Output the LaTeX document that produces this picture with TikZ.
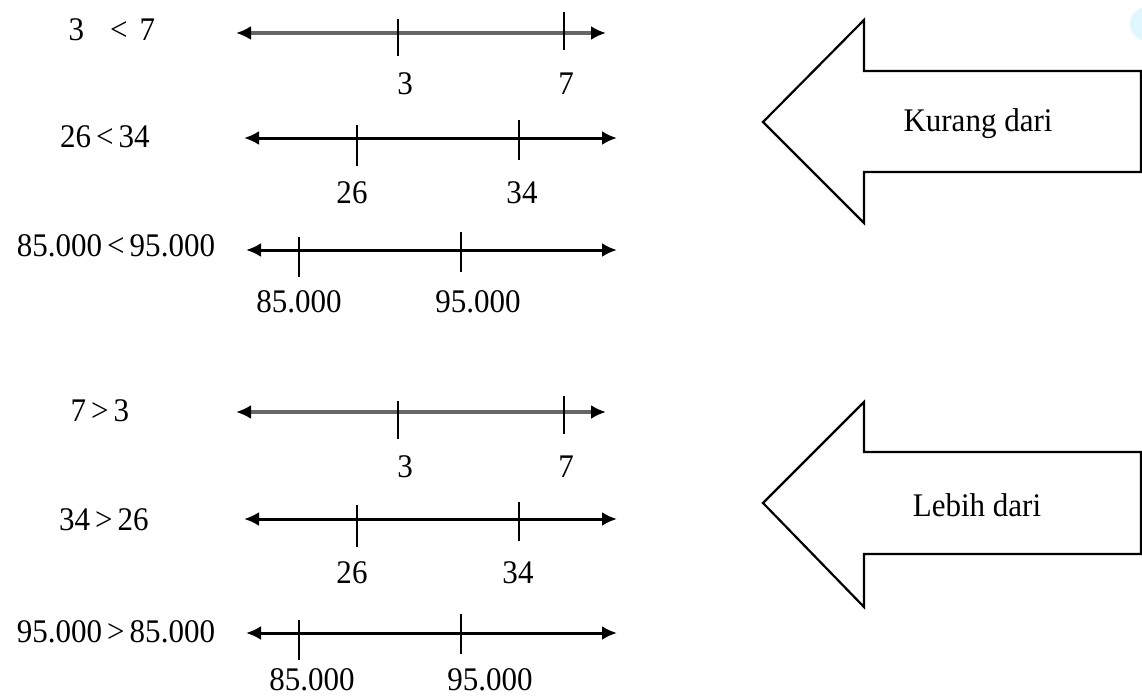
\documentclass[tikz,border=0pt]{standalone}
\usepackage{fontspec}
\setmainfont[FakeStretch=0.94]{Liberation Serif}
\usetikzlibrary{arrows.meta}
\begin{document}
\begin{tikzpicture}[x=1pt,y=-1pt,
  txt/.style={inner sep=0pt,font=\fontsize{33}{36}\selectfont},
  nline/.style={line width=3pt,{Latex[length=15pt,width=14pt]}-{Latex[length=15pt,width=14pt]}},
  gline/.style={nline,line width=4.5pt,draw=black!60,{Latex[length=15pt,width=14pt,black]}-{Latex[length=15pt,width=14pt,black]}},
  tick/.style={line width=2.5pt},
  bigarrow/.style={draw=black,line width=2.2pt,line join=miter,fill=white}]
\useasboundingbox (0,0) rectangle (1142,698);
\fill[white] (0,0) rectangle (1142,698);
\begin{scope}
\clip (0,0) rectangle (1142,698);
\fill[blue!25!cyan!15,opacity=0.8] (1147,24) circle (17);
\end{scope}

% ---- row 1: 3 < 7
\node[txt] (t1) at (112,30) {3\hspace{26pt}<\hspace{12pt}7};
\coordinate (a1) at (236,33); \coordinate (b1) at (606,33);
\draw[gline] (a1) -- (b1);
\draw[tick] (398,19) -- (398,56);
\draw[tick] (564,12) -- (564,50);
\node[txt] (l1a) at (405,84) {3};
\node[txt] (l1b) at (566,84) {7};

% ---- row 2: 26 < 34
\node[txt] (t2) at (105,137) {26\hspace{5pt}<\hspace{5pt}34};
\coordinate (a2) at (244,138); \coordinate (b2) at (617,138);
\draw[nline] (a2) -- (b2);
\draw[tick] (357,125) -- (357,166);
\draw[tick] (519,120) -- (519,160);
\node[txt] (l2a) at (352,193) {26};
\node[txt] (l2b) at (522,193) {34};

% ---- row 3: 85.000 < 95.000
\node[txt] (t3) at (116,246) {85.000\hspace{5pt}<\hspace{5pt}95.000};
\coordinate (a3) at (246,250); \coordinate (b3) at (617,250);
\draw[nline] (a3) -- (b3);
\draw[tick] (299,237) -- (299,277);
\draw[tick] (461,232) -- (461,272);
\node[txt] (l3a) at (299,302) {85.000};
\node[txt] (l3b) at (478,302) {95.000};

% ---- row 4: 7 > 3
\node[txt] (t4) at (100,411) {7\hspace{5pt}>\hspace{5pt}3};
\coordinate (a4) at (236,412); \coordinate (b4) at (606,412);
\draw[gline] (a4) -- (b4);
\draw[tick] (398,401) -- (398,439);
\draw[tick] (564,396) -- (564,434);
\node[txt] (l4a) at (405,467) {3};
\node[txt] (l4b) at (566,467) {7};

% ---- row 5: 34 > 26
\node[txt] (t5) at (104,520) {34\hspace{5pt}>\hspace{5pt}26};
\coordinate (a5) at (244,519); \coordinate (b5) at (617,519);
\draw[nline] (a5) -- (b5);
\draw[tick] (357,505) -- (357,547);
\draw[tick] (519,502) -- (519,541);
\node[txt] (l5a) at (352,573) {26};
\node[txt] (l5b) at (518,573) {34};

% ---- row 6: 95.000 > 85.000
\node[txt] (t6) at (116,632) {95.000\hspace{5pt}>\hspace{5pt}85.000};
\coordinate (a6) at (246,633); \coordinate (b6) at (617,633);
\draw[nline] (a6) -- (b6);
\draw[tick] (299,620) -- (299,660);
\draw[tick] (461,614) -- (461,654);
\node[txt,anchor=base] (l6a) at (312,690) {85.000};
\node[txt,anchor=base] (l6b) at (490,690) {95.000};

% ---- big arrows
\draw[bigarrow] (1141,71) -- (864,71) -- (864,20) -- (763,122) -- (864,223) -- (864,172) -- (1141,172) -- cycle;
\node[txt] (k) at (978,124) {Kurang dari};
\draw[bigarrow] (1141,452) -- (864,452) -- (864,402) -- (763,503) -- (864,607) -- (864,554) -- (1141,554) -- cycle;
\node[txt] (lb) at (977,505) {Lebih dari};
\end{tikzpicture}
\end{document}
